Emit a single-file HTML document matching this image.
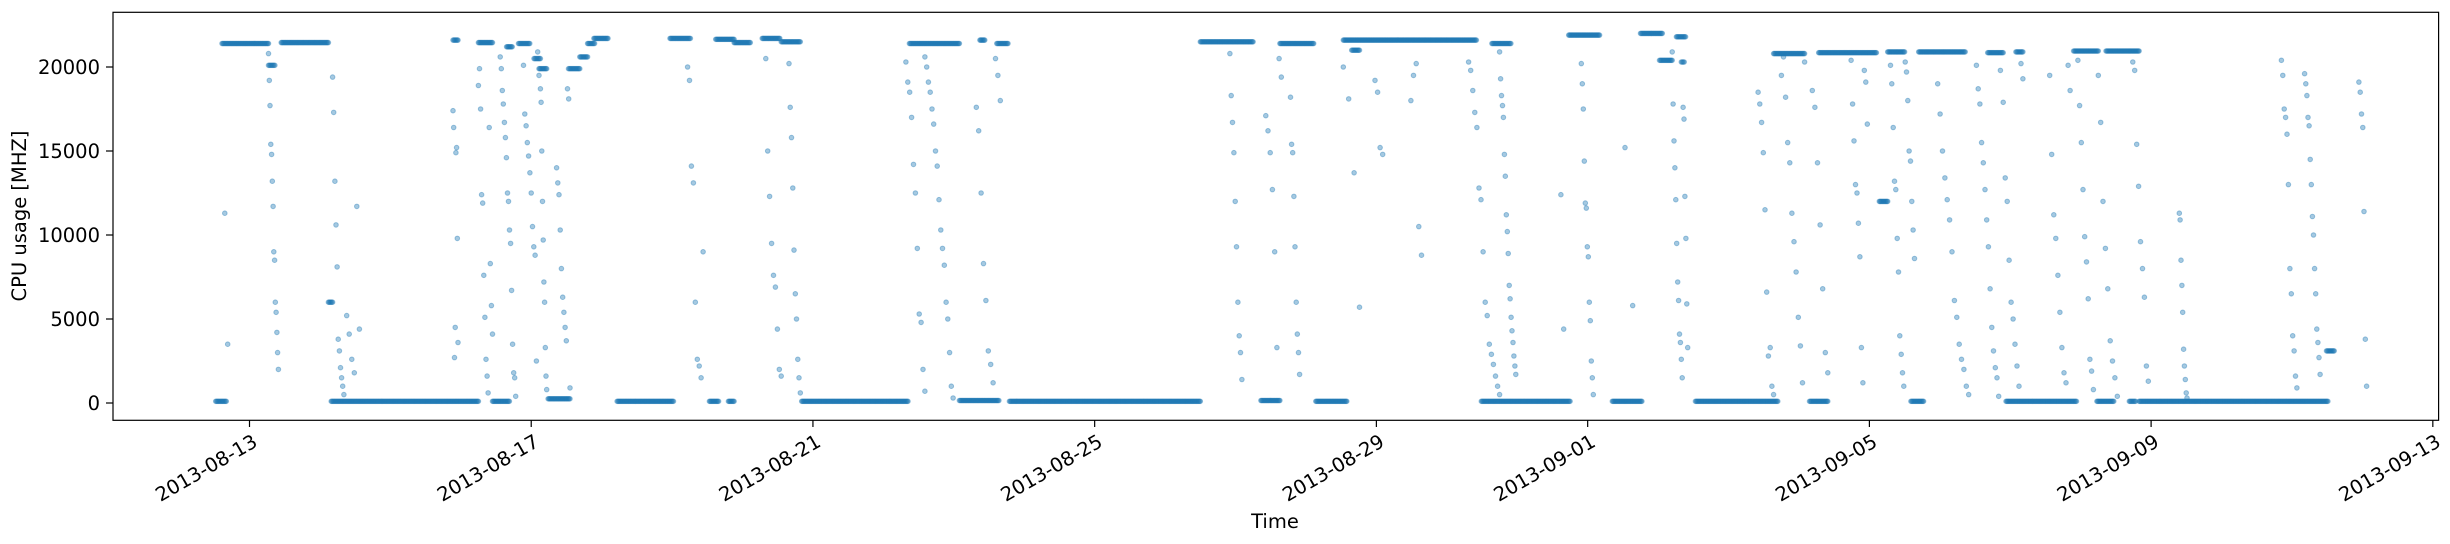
<!DOCTYPE html>
<html><head><meta charset="utf-8"><style>
html,body{margin:0;padding:0;background:#fff;}
svg{display:block;font-family:"DejaVu Sans","Liberation Sans",sans-serif;}
</style></head><body>
<svg id="chart" width="2450" height="544" viewBox="0 0 2450 544" xmlns="http://www.w3.org/2000/svg">
<rect x="0" y="0" width="2450" height="544" fill="#fff"/>
<g id="marks"></g>
<rect x="113" y="12.3" width="2325.6" height="408" fill="none" stroke="#000" stroke-width="1.2"/>
<g id="yaxis"></g>
<g id="xaxis"></g>
<text transform="translate(26,216) rotate(-90)" text-anchor="middle" font-size="19.5">CPU usage [MHZ]</text>
<text x="1275" y="528" text-anchor="middle" font-size="19.5">Time</text>
</svg>
<script>
// day offsets from 2013-08-13 00:00
const runStart = [-0.48,-0.39,0.27,0.45,1.12,1.16,2.89,3.25,3.45,3.65,3.82,4.04,4.11,4.24,4.53,4.69,4.80,4.89,5.22,5.97,6.53,6.62,6.88,6.80,7.28,7.55,7.84,9.37,10.08,10.37,10.61,10.79,13.5,14.36,14.63,15.14,15.53,15.65,17.64,17.49,18.73,19.35,19.75,20.02,20.26,20.33,20.53,21.64,22.15,22.28,23.14,23.26,23.59,23.70,24.68,24.94,25.08,25.90,26.23,26.36,26.69,26.83,29.49];
const runEnd   = [-0.33,0.27,0.36,1.12,1.18,3.25,2.96,3.45,3.69,3.73,3.98,4.13,4.22,4.55,4.69,4.80,4.90,5.09,6.02,6.26,6.66,6.88,7.11,6.88,7.53,7.82,9.35,10.08,10.64,10.44,10.77,13.5,14.25,14.63,15.11,15.58,17.42,15.76,17.91,18.75,19.17,19.77,20.06,20.20,20.39,20.37,21.70,22.08,22.41,23.10,23.26,23.50,23.77,24.36,24.90,25.94,25.18,26.25,26.47,26.83,26.78,29.51,29.60];
const runValue = [100,21400,20100,21450,6000,100,21600,21450,100,21200,21400,20500,19900,250,19900,20600,21400,21700,100,21700,100,21650,21450,100,21700,21500,100,21400,150,21600,21400,100,21500,150,21400,100,21600,21000,21400,100,21900,100,22000,20400,21800,20300,100,20800,100,20850,12000,20900,100,20900,20850,100,20900,20950,100,20950,100,100,3100];

const colStart = [-0.35,0.27,1.18,1.38,2.89,3.25,3.56,3.89,4.13,4.36,6.22,7.33,7.66,9.32,9.59,10.32,13.92,14.43,14.78,15.53,15.98,16.49,17.31,17.75,18.62,18.91,19.53,20.2,21.42,21.75,22.19,22.74,23.30,23.97,24.52,24.90,25.56,25.96,26.25,26.74,27.40,28.85,29.18,29.95];
const colEnd   = [-0.31,0.41,1.34,1.56,2.96,3.45,3.78,4.11,4.22,4.55,6.44,7.55,7.82,9.59,9.99,10.66,14.09,14.65,14.91,15.76,16.09,16.64,17.75,17.98,18.66,19.08,19.64,20.42,21.64,22.08,22.41,22.97,23.64,24.41,24.86,25.18,25.85,26.18,26.52,26.96,27.51,29.07,29.40,30.06];
const colValues = [
 [11300,3500],
 [20800,19200,17700,15400,14800,13200,11700,9000,8500,6000,5400,4200,3000,2000],
 [19400,17300,13200,10600,8100,3800,3100,2100,1500,1000,500],
 [5200,4100,2600,1800,11700,4400],
 [17400,16400,2700,4500,14900,15200,9800,3600],
 [18900,19900,17500,12400,11900,7600,5100,2600,1600,600,16400,8300,5800,4100],
 [20600,19900,18600,17800,16700,15800,14600,12500,12000,10300,9500,6700,3500,1800,1500,400],
 [20100,17200,16500,15500,14700,13700,12500,10500,9300,8800,2500,20900,19500],
 [18700,17900,15000,12000,9700,7200,6000,3300,1600,800],
 [14000,13100,12400,10300,8000,6300,5400,4500,3700,18700,18100,900],
 [20000,19200,14100,13100,6000,2600,2200,1500,9000],
 [20500,15000,12300,9500,7600,6900,4400,2000,1600],
 [20200,17600,15800,12800,9100,6500,5000,2600,1500,600],
 [20300,19100,18500,17000,14200,12500,9200,5300,4800,2000,700],
 [20600,20000,19100,18500,17500,16600,15000,14100,12100,10300,9200,8200,6000,5000,3000,1000,300],
 [17600,16200,12500,8300,6100,3100,2300,1200,20500,19500,18000],
 [20800,18300,16700,14900,12000,9300,6000,4000,3000,1400],
 [17100,16200,14900,12700,9000,3300,20500,19400],
 [18200,15400,14900,12300,9300,6000,4100,3000,1700],
 [20000,18100,13700,5700],
 [19200,18500,15200,14800],
 [18000,19500,20200,10500,8800],
 [20300,19800,18600,17300,16400,12800,12100,9000,6000,5200,3500,2900,2300,1600,1000,500],
 [20900,19300,18300,17700,17000,14800,13500,11200,10200,8900,7000,6200,5100,4300,3600,2800,2200,1700],
 [12400,4400],
 [20200,19000,17500,14400,11900,11600,9300,8700,6000,4900,2500,1500,500],
 [15200,5800],
 [20900,17800,15600,14000,12100,9500,7200,6100,4100,3600,2600,1500,17600,16900,12300,9800,5900,3300],
 [18500,17800,16700,14900,11500,6600,2800,3300,1000,500],
 [19500,20600,18200,15500,14300,11300,9600,7800,5100,3400,1200,20300],
 [18600,17600,14300,10600,6800,3000,1800],
 [20400,17800,15600,13000,12500,10700,8700,3300,1200,19800,19100,16600],
 [20100,19000,16400,13200,12700,9800,7800,4000,2900,1800,1000,20300,19700,18000,15000,14400,12000,10300,8600],
 [19000,17200,15000,13400,12100,10900,9000,6100,5100,3500,2600,2000,1000,500],
 [20100,18700,17800,15500,14300,12700,10900,9300,6800,4500,3100,2100,1500,400,19800],
 [17900,13400,12000,8500,6000,5000,3500,2200,1000,20200,19300],
 [19500,14800,11200,9800,7600,5400,3300,1800,1200,20100,18600],
 [20400,17700,15500,12700,9900,8400,6200,2600,1900,800],
 [19500,16700,12000,9200,6800,3700,2500,1500,400],
 [20300,19800,15400,12900,9600,8000,6300,2200,1300],
 [11300,10900,8500,7000,5400,3200,2200,1400,600,300],
 [20400,19500,17500,17000,16000,13000,8000,6500,4000,3100,1600,900],
 [19600,19000,18300,17000,16500,14500,13000,11100,10000,8000,6500,4400,3600,2700,1700],
 [19100,18500,17200,16400,11400,3800,1000]
];
const yTicks = [0,5000,10000,15000,20000];
const xTickDays = [0,4,8,12,16,19,23,27,31];
const xTickLabels = ["2013-08-13","2013-08-17","2013-08-21","2013-08-25","2013-08-29","2013-09-01","2013-09-05","2013-09-09","2013-09-13"];

const NS = "http://www.w3.org/2000/svg";
function xScale(d){ return 249.5 + d*70.43; }
function yScale(v){ return 403 - v*0.0168; }
const marks = document.getElementById('marks');
function dot(d,v){
  const c = document.createElementNS(NS,'circle');
  
  
  c.setAttribute('cx', xScale(d).toFixed(1));
  c.setAttribute('cy', yScale(v).toFixed(1));
  c.setAttribute('r', '2.3');
  c.setAttribute('fill', '#1f77b4');
  c.setAttribute('fill-opacity', '0.4');
  c.setAttribute('stroke', '#1f77b4');
  c.setAttribute('stroke-opacity', '0.4');
  c.setAttribute('stroke-width', '1');
  marks.appendChild(c);
}
for (let i=0;i<runStart.length;i++){
  const s=runStart[i], e=runEnd[i], v=runValue[i];
  const n=Math.max(2,Math.round((e-s)/0.012));
  for(let k=0;k<=n;k++){ dot(s+(e-s)*k/n, v); }
}
for (let i=0;i<colStart.length;i++){
  const vals=colValues[i], n=vals.length;
  for(let k=0;k<n;k++){
    const t = n>1 ? k/(n-1) : 0.5;
    dot(colStart[i]+(colEnd[i]-colStart[i])*t, vals[k]);
  }
}
const yaxis=document.getElementById('yaxis');
yTicks.forEach(v=>{
  const y=yScale(v);
  const l=document.createElementNS(NS,'line');
  
  
  l.setAttribute('x1','106'); l.setAttribute('x2','113');
  l.setAttribute('y1',y); l.setAttribute('y2',y);
  l.setAttribute('stroke','#000'); l.setAttribute('stroke-width','1.2');
  yaxis.appendChild(l);
  const t=document.createElementNS(NS,'text');
  
  
  t.setAttribute('x','100'); t.setAttribute('y',y+7);
  t.setAttribute('text-anchor','end'); t.setAttribute('font-size','19.5');
  t.textContent=String(v);
  yaxis.appendChild(t);
});
const xaxis=document.getElementById('xaxis');
xTickDays.forEach((d,i)=>{
  const x=xScale(d);
  const l=document.createElementNS(NS,'line');
  
  
  l.setAttribute('x1',x); l.setAttribute('x2',x);
  l.setAttribute('y1','420.3'); l.setAttribute('y2','427');
  l.setAttribute('stroke','#000'); l.setAttribute('stroke-width','1.2');
  xaxis.appendChild(l);
  const t=document.createElementNS(NS,'text');
  
  
  t.setAttribute('transform','translate('+(x+2)+',433) rotate(-30)');
  t.setAttribute('text-anchor','end'); t.setAttribute('dominant-baseline','hanging');
  t.setAttribute('font-size','19.5');
  t.textContent=xTickLabels[i];
  xaxis.appendChild(t);
});
</script>
</body></html>
